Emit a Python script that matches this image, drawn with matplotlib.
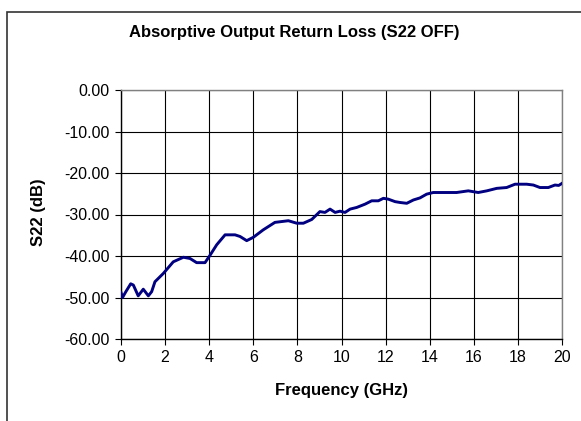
import matplotlib
matplotlib.use("Agg")
import matplotlib.pyplot as plt
from matplotlib.patches import Rectangle

plt.rcParams['font.family'] = ['Liberation Sans', 'DejaVu Sans']

freq_ghz = [0.0, 0.07, 0.22, 0.44, 0.56, 0.78, 1.01, 1.24, 1.39, 1.54, 1.92, 2.37, 2.83, 3.13,
            3.43, 3.81, 4.04, 4.34, 4.72, 5.17, 5.40, 5.70, 6.00, 6.45, 6.98, 7.59, 7.97,
            8.27, 8.65, 9.02, 9.25, 9.48, 9.71, 9.93, 10.16, 10.39, 10.69, 11.07, 11.37,
            11.67, 11.90, 12.12, 12.43, 12.65, 12.96, 13.26, 13.56, 13.86, 14.16, 14.62,
            15.22, 15.75, 16.20, 16.59, 17.04, 17.49, 17.87, 18.40, 18.70, 19.00, 19.38,
            19.68, 19.85, 20.0]
s22_db = [-48.8, -50.0, -48.6, -46.7, -47.0, -49.6, -48.0, -49.6, -48.6, -46.2, -44.2, -41.4,
          -40.3, -40.6, -41.6, -41.6, -39.8, -37.3, -34.9, -34.9, -35.3, -36.3, -35.5, -33.7,
          -31.9, -31.5, -32.1, -32.1, -31.2, -29.3, -29.5, -28.7, -29.5, -29.2, -29.5, -28.7,
          -28.3, -27.5, -26.7, -26.7, -26.1, -26.3, -26.9, -27.1, -27.3, -26.5, -26.0, -25.1,
          -24.7, -24.7, -24.7, -24.3, -24.7, -24.3, -23.7, -23.5, -22.7, -22.7, -22.9, -23.5,
          -23.5, -22.9, -23.0, -22.5]

x_ticks = [0, 2, 4, 6, 8, 10, 12, 14, 16, 18, 20]
y_ticks = [0, -10, -20, -30, -40, -50, -60]
y_tick_labels = ['0.00', '-10.00', '-20.00', '-30.00', '-40.00', '-50.00', '-60.00']

W, H = 581, 421
L, R, T, B = 121, 562, 90, 339
fig = plt.figure(figsize=(W / 100, H / 100), dpi=100)
ax = fig.add_axes([L / W, (H - B) / H, (R - L) / W, (B - T) / H])

ax.plot(freq_ghz, s22_db, color='#000080', lw=2.1, solid_joinstyle='round', zorder=3)

ax.set_xlim(0, 20)
ax.set_ylim(-60, 0)
ax.set_xticks(x_ticks)
ax.set_yticks(y_ticks)
ax.set_yticklabels(y_tick_labels)
ax.grid(True, color='black', lw=0.8)
ax.set_axisbelow(True)
for side in ['top', 'right']:
    ax.spines[side].set_color('#808080')
    ax.spines[side].set_linewidth(1.0)
for side in ['left', 'bottom']:
    ax.spines[side].set_color('black')
    ax.spines[side].set_linewidth(1.0)
ax.tick_params(direction='out', length=4, width=0.8, labelsize=11.5, pad=4, colors='black')

ax.set_xlabel('Frequency (GHz)', fontsize=12, fontweight='bold', va='center')
ax.xaxis.set_label_coords(0.5, (B - 390) / (B - T))
ax.set_ylabel('S22 (dB)', fontsize=12, fontweight='bold', va='center')
ax.yaxis.set_label_coords((38 - L) / (R - L), (B - 212) / (B - T))

fig.text(294 / W, 1 - 33 / H, 'Absorptive Output Return Loss (S22 OFF)', ha='center',
         va='center', fontsize=12, fontweight='bold')

fig.patches.append(Rectangle((7 / W, -0.1), 1.2, 1 - 12 / H + 0.1, transform=fig.transFigure,
                             fill=False, edgecolor='#333333', lw=1.2))

fig.savefig('out.png', dpi=100)
